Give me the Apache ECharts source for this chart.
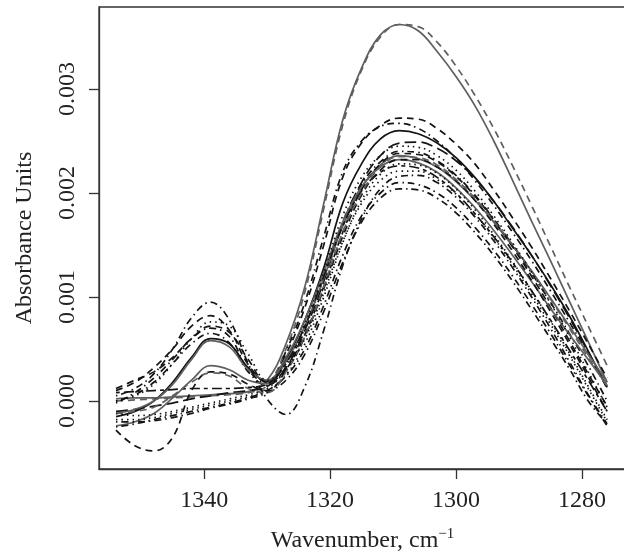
<!DOCTYPE html>
<html>
<head>
<meta charset="utf-8">
<script src="https://cdn.jsdelivr.net/npm/echarts@6/dist/echarts.min.js"></script>
<style>
html,body{margin:0;padding:0;background:#fff;overflow:hidden;}
#chart{width:624px;height:553px;}
</style>
</head>
<body>
<div id="chart"></div>
<script>
const wavenumbers = [1354,1351,1348,1345,1342,1339,1336,1333,1330,1327,1324,1321,1318,1315,1312,1309,1306,1303,1300,1297,1294,1291,1288,1285,1282,1279,1276];
const xTicks = [1280,1300,1320,1340];
const yTicks = [0,0.001,0.002,0.003];

const curveA = [0.00002,0.00003,0.00003,0.00004,0.00005,0.00006,0.00007,0.00009,0.0002,0.00055,0.0011,0.0019,0.0027,0.0032,0.00352,0.00362,0.00356,0.00336,0.00312,0.00284,0.0025,0.00212,0.00173,0.00135,0.00096,0.00057,0.00018];
const curveB = [0.0,0.00001,0.00002,0.00003,0.00004,0.00005,0.00006,0.00008,0.00015,0.0005,0.00105,0.00185,0.00265,0.00318,0.0035,0.00362,0.0036,0.00345,0.00322,0.00294,0.00262,0.00226,0.00188,0.00149,0.0011,0.00072,0.00034];
const curveC = [0.0001,0.00018,0.00032,0.0005,0.00072,0.00082,0.00068,0.00035,0.00018,0.00045,0.0009,0.0015,0.00215,0.00248,0.00265,0.00272,0.00271,0.00262,0.00247,0.00228,0.00203,0.00176,0.00148,0.00118,0.00087,0.00055,0.00022];
const curveD = [-0.00002,0.00008,0.00022,0.0004,0.0006,0.0007,0.00062,0.0003,0.00017,0.00048,0.00095,0.00158,0.0022,0.0025,0.00264,0.00267,0.00262,0.0025,0.00233,0.00212,0.00188,0.00162,0.00135,0.00106,0.00076,0.00045,0.00012];
const curveE = [-0.00015,-0.0001,0.0,0.00018,0.00042,0.0006,0.00055,0.00032,0.00019,0.0004,0.00078,0.00128,0.0019,0.00228,0.00252,0.0026,0.00257,0.00248,0.00234,0.00215,0.00192,0.00166,0.0014,0.00112,0.00082,0.00048,0.00013];
const curveF = [-0.0001,-0.00008,-0.00005,-0.00002,0.00002,0.00005,0.00008,0.0001,0.00014,0.00032,0.00068,0.00115,0.0017,0.0021,0.00236,0.00248,0.00249,0.00243,0.00231,0.00214,0.00192,0.00167,0.0014,0.00111,0.0008,0.00047,0.00014];
const curveG = [0.0,0.00006,0.00018,0.00036,0.00055,0.00065,0.00056,0.00028,0.00015,0.00033,0.0007,0.00118,0.00172,0.00208,0.0023,0.0024,0.00239,0.00231,0.00217,0.00198,0.00175,0.0015,0.00123,0.00095,0.00065,0.00034,0.0];
const curveH = [-0.00024,-0.0002,-0.00012,0.00003,0.0002,0.00034,0.0003,0.0002,0.00017,0.00038,0.00072,0.00118,0.00168,0.00205,0.00227,0.00236,0.00233,0.00225,0.00211,0.00193,0.00172,0.00149,0.00125,0.00099,0.00072,0.00045,0.00018];
const curveI = [-0.00028,-0.00043,-0.00048,-0.00035,0.0001,0.00028,0.00026,0.00016,0.0001,0.0003,0.00064,0.0011,0.00162,0.00203,0.00228,0.00238,0.00237,0.0023,0.00216,0.00197,0.00174,0.00148,0.0012,0.0009,0.00058,0.00026,-0.00005];
const curveJ = [-0.00012,-0.00008,0.0,0.00016,0.0004,0.00058,0.00052,0.0003,0.0002,0.00042,0.00078,0.00124,0.00172,0.00206,0.00225,0.00232,0.00229,0.0022,0.00205,0.00186,0.00164,0.0014,0.00115,0.00089,0.00064,0.0004,0.00015];
const curveK = [-0.00018,-0.00018,-0.00016,-0.00012,-0.00008,-0.00004,0.0,0.00004,0.0001,0.00025,0.00055,0.001,0.00152,0.00193,0.00218,0.00228,0.00227,0.00219,0.00204,0.00184,0.0016,0.00134,0.00106,0.00077,0.00046,0.00014,-0.00018];
const curveL = [0.00005,0.00012,0.00026,0.0005,0.0008,0.00095,0.00078,0.00036,0.00002,-0.00013,0.00014,0.00068,0.0013,0.00175,0.00204,0.00216,0.00217,0.0021,0.00196,0.00177,0.00154,0.00128,0.001,0.0007,0.00038,0.00006,-0.00022];
const curveM = [-0.00025,-0.00022,-0.00018,-0.00014,-0.0001,-0.00006,-0.00002,0.00003,0.0001,0.00024,0.0005,0.00092,0.0014,0.00178,0.002,0.0021,0.00208,0.002,0.00186,0.00167,0.00145,0.0012,0.00093,0.00065,0.00035,0.00005,-0.00024];
const curveN = [-0.0002,-0.0002,-0.00019,-0.00016,-0.00012,-0.00007,-0.00003,0.00002,0.00008,0.0002,0.00045,0.00086,0.00133,0.00172,0.00195,0.00204,0.00203,0.00195,0.00181,0.00162,0.0014,0.00115,0.00088,0.0006,0.00031,0.0,-0.00022];
const curveO = [0.00008,0.00009,0.0001,0.00011,0.00012,0.00012,0.00012,0.00013,0.00016,0.00036,0.00072,0.0012,0.00168,0.00202,0.0022,0.00226,0.00224,0.00215,0.002,0.0018,0.00158,0.00133,0.00106,0.00078,0.00049,0.0002,-0.0001];
const curveP = [0.00012,0.0002,0.00028,0.00042,0.0006,0.00072,0.00066,0.0004,0.00018,0.0003,0.00062,0.00108,0.00158,0.00198,0.00222,0.00232,0.00232,0.00225,0.00212,0.00193,0.0017,0.00144,0.00116,0.00086,0.00055,0.00023,-0.0001];
const curveQ = [-0.00012,-0.0001,-0.00006,0.00005,0.00018,0.00027,0.00024,0.00012,0.00008,0.00028,0.00062,0.0011,0.00162,0.002,0.00225,0.00235,0.00234,0.00227,0.00213,0.00195,0.00173,0.0015,0.00125,0.00098,0.0007,0.00042,0.00014];
const curveR = [-0.00012,-0.00014,-0.00013,-0.0001,-0.00006,-0.00002,0.00002,0.00006,0.00012,0.0003,0.0006,0.00104,0.00153,0.0019,0.00212,0.00221,0.00221,0.00213,0.00199,0.0018,0.00157,0.00131,0.00103,0.00074,0.00044,0.00012,-0.0002];
const curveT = [0.0,0.00005,0.00016,0.00036,0.0006,0.00076,0.00072,0.00045,0.0002,0.00036,0.00074,0.00124,0.00178,0.00215,0.00236,0.00245,0.00244,0.00236,0.00222,0.00202,0.00178,0.00152,0.00124,0.00094,0.00062,0.00028,-0.00006];

const BLACK = '#141414', GRAY = '#5f5f5f';
const DASH = [7,5], DOT = [1.5,4], DOTDASH = [1.5,4,7,4], LONGDASH = [12,5], TWODASH = [4,4,10,4];

const curves = [
  {name:'A', data:curveA, color:GRAY, type:'solid'},
  {name:'B', data:curveB, color:GRAY, type:DASH},
  {name:'C', data:curveC, color:BLACK, type:DASH},
  {name:'D', data:curveD, color:BLACK, type:DOTDASH},
  {name:'E', data:curveE, color:BLACK, type:'solid'},
  {name:'F', data:curveF, color:BLACK, type:LONGDASH},
  {name:'G', data:curveG, color:BLACK, type:DOTDASH},
  {name:'H', data:curveH, color:GRAY, type:'solid'},
  {name:'I', data:curveI, color:BLACK, type:DASH},
  {name:'J', data:curveJ, color:GRAY, type:'solid'},
  {name:'K', data:curveK, color:BLACK, type:DOT},
  {name:'L', data:curveL, color:BLACK, type:DOTDASH},
  {name:'M', data:curveM, color:BLACK, type:DOTDASH},
  {name:'N', data:curveN, color:BLACK, type:DOTDASH},
  {name:'O', data:curveO, color:BLACK, type:TWODASH},
  {name:'P', data:curveP, color:BLACK, type:DASH},
  {name:'Q', data:curveQ, color:GRAY, type:DASH},
  {name:'R', data:curveR, color:BLACK, type:DOT},
  {name:'T', data:curveT, color:BLACK, type:DOT}
];

const FONT = 'Liberation Serif';
const chart = echarts.init(document.getElementById('chart'), null, {renderer:'canvas', width: 624, height: 553});
chart.setOption({
  animation: false,
  backgroundColor: '#fff',
  grid: {left: 99, right: -2, top: 7, height: 462, outerBoundsMode: 'none', containLabel: false,
    show: true, borderColor: '#333', borderWidth: 1.3, backgroundColor: 'transparent'},
  xAxis: {
    type: 'value', inverse: true, min: 1273.0, max: 1356.7,
    name: '{a|Wavenumber, cm}{s|−1}', nameLocation: 'middle', nameGap: 58,
    nameTextStyle: {rich: {a: {fontFamily: FONT, fontSize: 24, color: '#222', lineHeight: 28}, s: {fontFamily: FONT, fontSize: 15, color: '#222', verticalAlign: 'top', lineHeight: 16}}},
    axisLine: {show: true, onZero: false, lineStyle: {color: '#333', width: 1.3}},
    axisTick: {show: true, length: 10, customValues: xTicks, lineStyle: {color: '#333', width: 1.3}},
    axisLabel: {customValues: xTicks, margin: 20, fontFamily: FONT, fontSize: 24, color: '#222',
      formatter: v => String(Math.round(v))},
    splitLine: {show: false}
  },
  yAxis: {
    type: 'value', min: -0.000654, max: 0.0037885,
    name: 'Absorbance Units', nameLocation: 'middle', nameGap: 62, nameRotate: 90,
    nameTextStyle: {fontFamily: FONT, fontSize: 24, color: '#222'},
    axisLine: {show: true, onZero: false, lineStyle: {color: '#333', width: 1.3}},
    axisTick: {show: true, length: 10, customValues: yTicks, lineStyle: {color: '#333', width: 1.3}},
    axisLabel: {customValues: yTicks, rotate: 90, margin: 19, fontFamily: FONT, fontSize: 24, color: '#222',
      formatter: v => v.toFixed(3)},
    splitLine: {show: false}
  },
  series: curves.map(c => ({
    name: c.name, type: 'line', smooth: 0.4, symbol: 'none', silent: true,
    data: wavenumbers.map((w, i) => [w, c.data[i]]),
    lineStyle: {color: c.color, width: 1.7, type: c.type}
  }))
});
</script>
</body>
</html>
